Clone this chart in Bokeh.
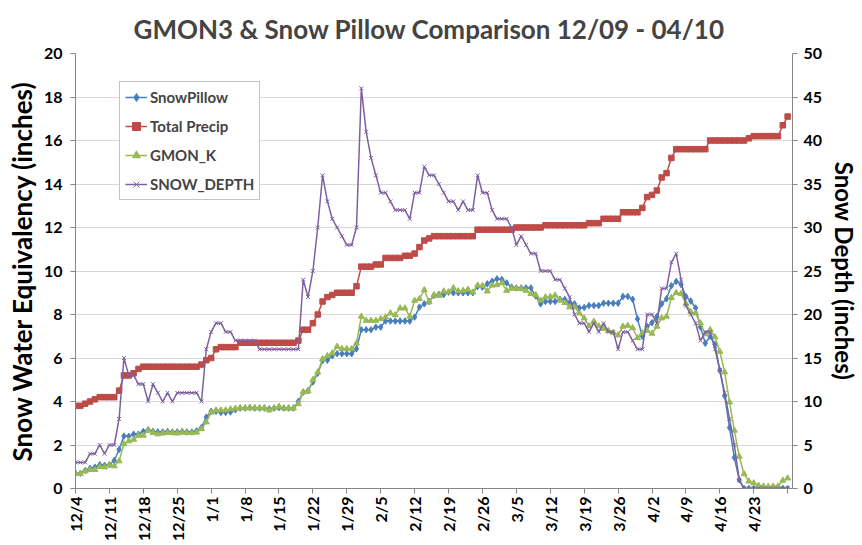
import math
import pandas as pd
from bokeh.plotting import figure
from bokeh.models import (Range1d, LinearAxis, FixedTicker, Legend, LegendItem,
                          ColumnDataSource)
from bokeh.embed import file_html
from bokeh.resources import INLINE

TITLE = "GMON3 & Snow Pillow Comparison 12/09 - 04/10"
START_DATE = "2009-12-04"
END_DATE = "2010-04-30"

SNOW_PILLOW = [
    0.7, 0.7, 0.83, 0.93, 0.98, 1.09, 1.06, 1.09, 1.29, 1.79,
    2.41, 2.4, 2.5, 2.5, 2.62, 2.7, 2.62, 2.6, 2.6, 2.62,
    2.6, 2.6, 2.62, 2.6, 2.6, 2.65, 2.8, 3.28, 3.55, 3.55,
    3.5, 3.5, 3.52, 3.62, 3.7, 3.7, 3.72, 3.7, 3.7, 3.7,
    3.66, 3.7, 3.72, 3.7, 3.7, 3.7, 4.0, 4.43, 4.5, 4.9,
    5.3, 5.88, 5.9, 6.1, 6.2, 6.2, 6.2, 6.2, 6.42, 7.3,
    7.3, 7.3, 7.42, 7.42, 7.7, 7.7, 7.7, 7.7, 7.7, 7.7,
    7.88, 8.34, 8.49, 8.6, 8.88, 8.92, 8.92, 9.03, 9.0, 9.0,
    9.0, 9.0, 9.0, 9.29, 9.26, 9.41, 9.53, 9.64, 9.61, 9.45,
    9.26, 9.22, 9.22, 9.22, 9.22, 8.85, 8.49, 8.6, 8.6, 8.6,
    8.7, 8.69, 8.55, 8.49, 8.3, 8.32, 8.41, 8.41, 8.41, 8.52,
    8.52, 8.52, 8.52, 8.83, 8.83, 8.7, 7.8, 7.0, 7.45, 7.62,
    7.9, 8.49, 8.72, 9.32, 9.52, 9.38, 8.83, 8.62, 8.3, 7.42,
    6.68, 7.0, 6.62, 5.43, 4.26, 2.8, 1.42, 0.4, 0.0, 0.0,
    0.0, 0.0, 0.0, 0.0, 0.0, 0.0, 0.0, 0.0]

TOTAL_PRECIP = [
    3.8, 3.8, 3.9, 4.0, 4.1, 4.2, 4.2, 4.2, 4.2, 4.5,
    5.2, 5.2, 5.3, 5.5, 5.6, 5.6, 5.6, 5.6, 5.6, 5.6,
    5.6, 5.6, 5.6, 5.6, 5.6, 5.6, 5.7, 5.9, 6.0, 6.4,
    6.5, 6.5, 6.5, 6.5, 6.7, 6.7, 6.7, 6.7, 6.7, 6.7,
    6.7, 6.7, 6.7, 6.7, 6.7, 6.7, 6.8, 7.3, 7.3, 7.6,
    8.0, 8.6, 8.8, 8.9, 9.0, 9.0, 9.0, 9.0, 9.3, 10.2,
    10.2, 10.2, 10.3, 10.3, 10.6, 10.6, 10.6, 10.6, 10.7, 10.7,
    10.8, 11.1, 11.4, 11.5, 11.6, 11.6, 11.6, 11.6, 11.6, 11.6,
    11.6, 11.6, 11.6, 11.9, 11.9, 11.9, 11.9, 11.9, 11.9, 11.9,
    11.9, 12.0, 12.0, 12.0, 12.0, 12.0, 12.0, 12.1, 12.1, 12.1,
    12.1, 12.1, 12.1, 12.1, 12.1, 12.1, 12.2, 12.2, 12.2, 12.4,
    12.4, 12.4, 12.4, 12.7, 12.7, 12.7, 12.7, 12.9, 13.4, 13.5,
    13.7, 14.3, 14.5, 15.2, 15.6, 15.6, 15.6, 15.6, 15.6, 15.6,
    15.6, 16.0, 16.0, 16.0, 16.0, 16.0, 16.0, 16.0, 16.0, 16.1,
    16.2, 16.2, 16.2, 16.2, 16.2, 16.2, 16.7, 17.1]

GMON_K = [
    0.7, 0.68, 0.8, 0.86, 0.86, 1.0, 0.98, 1.08, 1.03, 1.26,
    2.05, 2.18, 2.25, 2.44, 2.44, 2.67, 2.56, 2.5, 2.54, 2.56,
    2.56, 2.54, 2.58, 2.56, 2.56, 2.58, 2.74, 3.05, 3.5, 3.6,
    3.6, 3.6, 3.65, 3.68, 3.7, 3.7, 3.7, 3.7, 3.7, 3.7,
    3.6, 3.7, 3.77, 3.69, 3.69, 3.69, 3.89, 4.43, 4.47, 5.0,
    5.35, 5.96, 6.1, 6.22, 6.53, 6.42, 6.42, 6.42, 6.68, 7.91,
    7.72, 7.72, 7.72, 7.8, 7.88, 8.06, 7.98, 8.29, 8.29, 7.91,
    8.64, 8.72, 9.13, 8.57, 8.9, 8.86, 9.07, 9.03, 9.22, 9.08,
    9.1, 9.15, 9.02, 9.34, 9.32, 9.07, 9.34, 9.36, 9.45, 9.1,
    9.2, 9.2, 9.18, 9.1, 8.95, 8.9, 8.65, 8.8, 8.82, 8.88,
    8.65, 8.54, 8.34, 8.34, 8.06, 7.83, 7.47, 7.68, 7.47, 7.35,
    7.25, 7.17, 7.05, 7.45, 7.49, 7.38, 6.92, 7.15, 7.25, 7.13,
    7.45, 7.83, 7.91, 8.77, 9.0, 8.95, 8.5, 8.12, 8.06, 7.6,
    7.1, 7.3, 6.96, 6.3, 5.35, 3.97, 2.67, 1.47, 0.67, 0.33,
    0.25, 0.14, 0.1, 0.08, 0.1, 0.1, 0.37, 0.47]

SNOW_DEPTH = [
    3, 3, 3, 4, 4, 5, 4, 5, 5, 8,
    15, 13, 13, 12, 12, 10, 12, 11, 10, 11,
    10, 11, 11, 11, 11, 11, 10, 16, 18, 19,
    19, 18, 18, 17, 17, 17, 17, 17, 16, 16,
    16, 16, 16, 16, 16, 16, 16, 24, 22, 25,
    30, 36, 33, 31, 30, 29, 28, 28, 30, 46,
    41, 38, 36, 34, 34, 33, 32, 32, 32, 31,
    34, 34, 37, 36, 36, 35, 34, 33, 33, 32,
    33, 32, 32, 36, 34, 34, 32, 31, 31, 31,
    30, 28, 29, 28, 27, 27, 25, 25, 25, 24,
    24, 23, 22, 20, 19, 19, 18, 19, 18, 19,
    18, 18, 16, 18, 18, 17, 16, 16, 20, 20,
    19, 23, 23, 26, 27, 24, 21, 20, 19, 17,
    18, 18, 16, 13.6, 11, 8, 5, 1, 0, 0,
    0, 0, 0, 0, 0, 0, 0, 0]

SWE_TICKS = [0, 2, 4, 6, 8, 10, 12, 14, 16, 18, 20]
DEPTH_TICKS = [0, 5, 10, 15, 20, 25, 30, 35, 40, 45, 50]

dates = pd.date_range(START_DATE, END_DATE, freq="D")
day = [(d - dates[0]).days for d in dates]
tick_dates = dates[::7]
tick_days = [(d - dates[0]).days for d in tick_dates]
tick_labels = {t: f"{d.month}/{d.day}" for t, d in zip(tick_days, tick_dates)}
tick_labels[tick_days[-1]] = ""

src = ColumnDataSource(dict(day=day, sp=SNOW_PILLOW, tp=TOTAL_PRECIP,
                            gk=GMON_K, sd=SNOW_DEPTH))

FONT = "Lato"
p = figure(width=862, height=545, output_backend="svg", toolbar_location=None,
           x_range=Range1d(0, 148), y_range=Range1d(0, 20),
           min_border_left=75, min_border_right=69, min_border_top=53,
           min_border_bottom=57)
p.extra_y_ranges = {"depth": Range1d(0, 50)}
p.outline_line_color = None
p.background_fill_color = "white"

p.title.text = TITLE
p.title.align = "left"
p.title.offset = 58
p.title.text_font = FONT
p.title.text_font_size = "26px"
p.title.text_font_style = "bold"
p.title.standoff = 18

AX_COL = "#868686"
def style_axis(ax, label_size="16px", title_size="24px"):
    ax.axis_line_color = AX_COL
    ax.major_tick_line_color = AX_COL
    ax.major_tick_out = 5
    ax.major_tick_in = 0
    ax.minor_tick_line_color = None
    ax.major_label_text_font = FONT
    ax.major_label_text_font_style = "bold"
    ax.major_label_text_font_size = label_size
    ax.major_label_text_color = "black"
    ax.axis_label_text_font = FONT
    ax.axis_label_text_font_style = "bold"
    ax.axis_label_text_font_size = title_size
    ax.axis_label_text_color = "black"

xa = p.xaxis[0]
xa.ticker = FixedTicker(ticks=tick_days)
xa.major_label_overrides = tick_labels
xa.major_label_orientation = math.pi / 2
xa.major_label_standoff = 3
style_axis(xa, "16px")

ya = p.yaxis[0]
ya.ticker = FixedTicker(ticks=SWE_TICKS)
ya.axis_label = "Snow Water Equivalency (inches)"
ya.major_label_standoff = 8
ya.axis_label_standoff = 3
style_axis(ya, "16px", "26px")

ra = LinearAxis(y_range_name="depth", axis_label="Snow Depth (inches)",
                ticker=FixedTicker(ticks=DEPTH_TICKS))
style_axis(ra, "16px", "24px")
ra.major_label_standoff = 6
ra.axis_label_standoff = 5
p.add_layout(ra, "right")

p.xgrid.visible = False
p.ygrid.ticker = FixedTicker(ticks=SWE_TICKS)
p.ygrid.grid_line_color = "#d9d9d9"
p.ygrid.grid_line_width = 1

BLUE, RED, GREEN, PURPLE = "#4a7ebb", "#be4b48", "#98b954", "#7d60a0"
LW = 1.5

l1 = p.line("day", "sp", source=src, color=BLUE, line_width=LW)
m1 = p.scatter("day", "sp", source=src, marker="diamond", size=6.5, color=BLUE)
l2 = p.line("day", "tp", source=src, color=RED, line_width=LW)
m2 = p.scatter("day", "tp", source=src, marker="square", size=5.5, color=RED)
l3 = p.line("day", "gk", source=src, color=GREEN, line_width=LW)
m3 = p.scatter("day", "gk", source=src, marker="triangle", size=6, color=GREEN)
l4 = p.line("day", "sd", source=src, color=PURPLE, line_width=LW, y_range_name="depth")
m4 = p.scatter("day", "sd", source=src, marker="x", size=5.5, color=PURPLE,
               line_width=1, y_range_name="depth")

legend = Legend(items=[
    LegendItem(label="SnowPillow", renderers=[l1, m1]),
    LegendItem(label="Total Precip", renderers=[l2, m2]),
    LegendItem(label="GMON_K", renderers=[l3, m3]),
    LegendItem(label="SNOW_DEPTH", renderers=[l4, m4]),
], location=(44, 288))
legend.label_text_font = FONT
legend.label_text_font_style = "bold"
legend.label_text_font_size = "15px"
legend.border_line_color = "#888888"
legend.border_line_width = 1
legend.background_fill_alpha = 1
legend.padding = 5
legend.spacing = 9
legend.glyph_width = 22
legend.glyph_height = 20
legend.label_height = 20
legend.label_standoff = 3
legend.margin = 0
p.add_layout(legend)

open("out.html", "w").write(file_html(p, INLINE))
